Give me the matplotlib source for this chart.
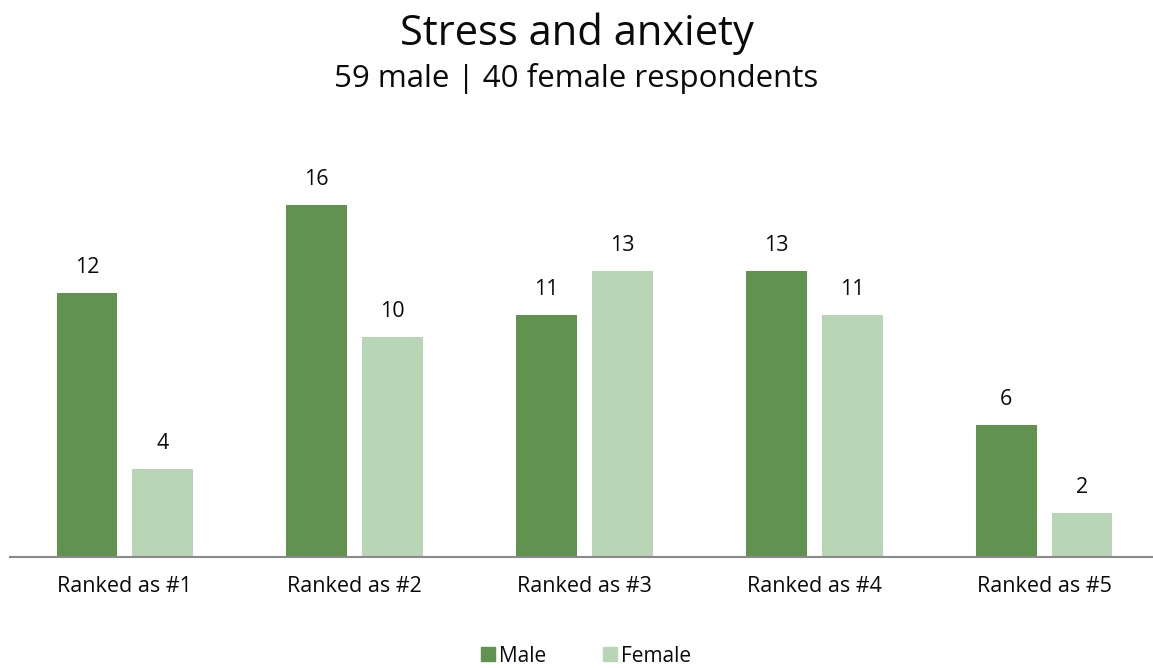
import matplotlib
matplotlib.use("Agg")
import matplotlib.pyplot as plt
from matplotlib.patches import Patch
import numpy as np

categories = ["Ranked as #1", "Ranked as #2", "Ranked as #3", "Ranked as #4", "Ranked as #5"]
male = [12, 16, 11, 13, 6]
female = [4, 10, 13, 11, 2]
series_names = ["Male", "Female"]
title = "Stress and anxiety"
subtitle = "59 male | 40 female respondents"

MALE_C = "#629250"
FEMALE_C = "#B8D5B6"
TXT = "#0a0a0a"

plt.rcParams['font.family'] = ['Open Sans', 'DejaVu Sans']

W, H = 1153, 668
fig = plt.figure(figsize=(W / 100, H / 100), dpi=100)
left_px, right_px = 10, 1153
bottom_px, top_px = 557, 150
ax = fig.add_axes([left_px / W, 1 - bottom_px / H, (right_px - left_px) / W, (bottom_px - top_px) / H])

x = np.arange(len(categories))
bw = 0.265
off = 0.165
b1 = ax.bar(x - off, male, bw, color=MALE_C, label=series_names[0])
b2 = ax.bar(x + off, female, bw, color=FEMALE_C, label=series_names[1])

for bars, vals in ((b1, male), (b2, female)):
    for r, v in zip(bars, vals):
        ax.annotate(str(v), (r.get_x() + r.get_width() / 2, v), xytext=(0, 11),
                    textcoords="offset points", ha="center", va="bottom", fontsize=15.5, color=TXT)

ax.set_xlim(-0.5, 4.474)
ax.set_ylim(0, 18.5)
ax.set_xticks(x)
ax.set_xticklabels(categories, fontsize=15.5, color=TXT)
ax.tick_params(axis="x", length=0, pad=14)
ax.set_yticks([])
for s in ("top", "right", "left"):
    ax.spines[s].set_visible(False)
ax.spines["bottom"].set_color("#8a8a8a")
ax.spines["bottom"].set_linewidth(1.5)

fig.text(0.5, 1 - 34 / H, title, ha="center", va="center", fontsize=30, color=TXT)
fig.text(0.5, 1 - 78 / H, subtitle, ha="center", va="center", fontsize=22.5, color=TXT)

handles = [Patch(color=MALE_C), Patch(color=FEMALE_C)]
fig.legend(handles, series_names, loc="center", bbox_to_anchor=(586 / W, 1 - 656 / H), ncol=2,
           frameon=False, fontsize=15, handlelength=0.67, handleheight=0.67, handletextpad=0.2,
           columnspacing=2.7, labelcolor=TXT)

fig.savefig("out.png", dpi=100)
